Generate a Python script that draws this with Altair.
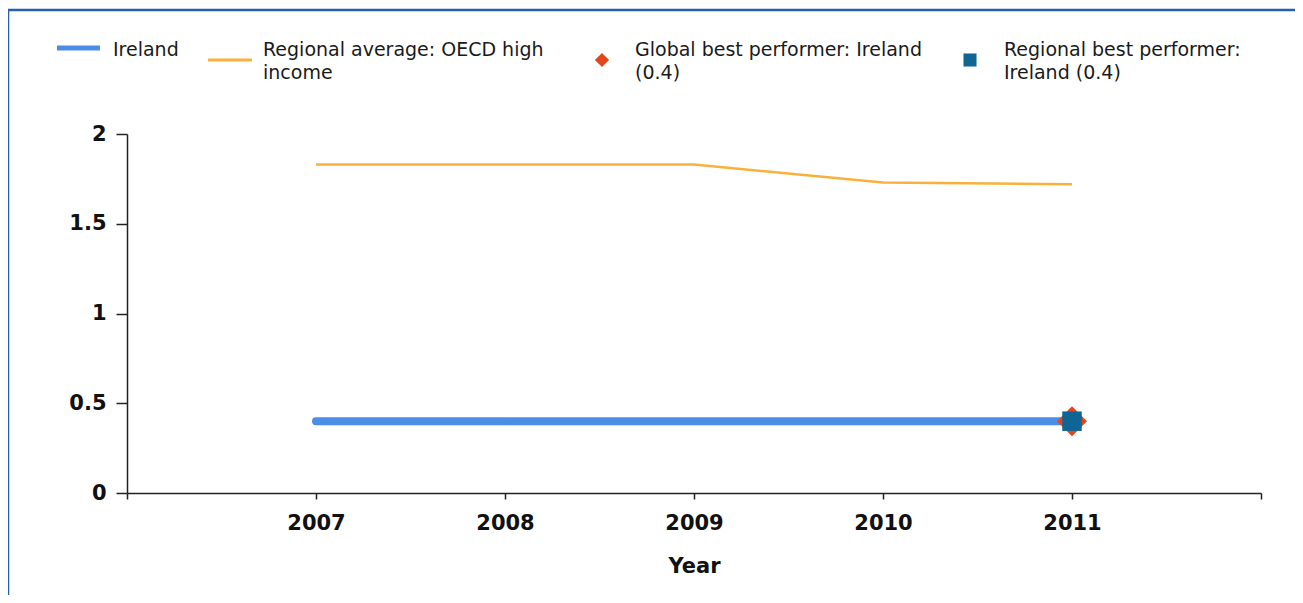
import altair as alt
import pandas as pd

# ---- data ----
years = [2007, 2008, 2009, 2010, 2011]
ireland = [0.4, 0.4, 0.4, 0.4, 0.4]
oecd_avg = [1.83, 1.83, 1.83, 1.73, 1.72]
global_best_year = [2011]
global_best_value = [0.4]
regional_best_year = [2011]
regional_best_value = [0.4]

x_ticks = [2006, 2007, 2008, 2009, 2010, 2011, 2012]
y_ticks = [0, 0.5, 1, 1.5, 2]

legend_labels = [
    "Ireland",
    "Regional average: OECD high\nincome",
    "Global best performer: Ireland\n(0.4)",
    "Regional best performer:\nIreland (0.4)",
]

BLUE = "#4b8ee6"
ORANGE = "#f9b13c"
RED = "#e4461b"
TEAL = "#0f6696"
FRAME = "#2360a8"
FONT = "DejaVu Sans"

df_ie = pd.DataFrame({"Year": years, "Value": ireland})
df_oecd = pd.DataFrame({"Year": years, "Value": oecd_avg})
df_gb = pd.DataFrame({"Year": global_best_year, "Value": global_best_value})
df_rb = pd.DataFrame({"Year": regional_best_year, "Value": regional_best_value})

x_enc = alt.X(
    "Year:Q",
    scale=alt.Scale(domain=[2006, 2012], nice=False, zero=False),
    axis=alt.Axis(
        values=x_ticks,
        format="d",
        labelExpr="datum.value == 2006 || datum.value == 2012 ? '' : datum.label",
        title="Year",
        grid=False,
        tickSize=6,
        labelPadding=13,
        titlePadding=22,
    ),
)
y_enc = alt.Y(
    "Value:Q",
    scale=alt.Scale(domain=[0, 2], nice=False),
    axis=alt.Axis(
        values=y_ticks,
        format="~g",
        title=None,
        grid=False,
        tickSize=11,
        labelPadding=10,
    ),
)

line_ie = alt.Chart(df_ie).mark_line(
    color=BLUE, strokeWidth=8, strokeCap="round"
).encode(x=x_enc, y=y_enc)

line_oecd = alt.Chart(df_oecd).mark_line(
    color=ORANGE, strokeWidth=2.5
).encode(x="Year:Q", y="Value:Q")

pt_gb = alt.Chart(df_gb).mark_point(
    shape="diamond", filled=True, color=RED, size=900, opacity=1
).encode(x="Year:Q", y="Value:Q")

pt_rb = alt.Chart(df_rb).mark_point(
    shape="square", filled=True, color=TEAL, size=380, opacity=1
).encode(x="Year:Q", y="Value:Q")

# ---- frame around the whole figure ----
one = pd.DataFrame({"k": [0]})
frame = alt.Chart(one).mark_rect(
    fill=None, stroke=FRAME, strokeWidth=2.5
).encode(
    x=alt.value(-119), x2=alt.value(1300),
    y=alt.value(-124), y2=alt.value(700),
)

# ---- custom legend ----
leg_ie = alt.Chart(one).mark_rule(color=BLUE, strokeWidth=5).encode(
    x=alt.value(-70), x2=alt.value(-27), y=alt.value(-86)
)
leg_oecd = alt.Chart(one).mark_rule(color=ORANGE, strokeWidth=3).encode(
    x=alt.value(81), x2=alt.value(125), y=alt.value(-74)
)
leg_gb = alt.Chart(one).mark_point(
    shape="diamond", filled=True, color=RED, size=200, opacity=1
).encode(x=alt.value(475), y=alt.value(-74))
leg_rb = alt.Chart(one).mark_point(
    shape="square", filled=True, color=TEAL, size=170, opacity=1
).encode(x=alt.value(843), y=alt.value(-74))

def leg_text(label, x):
    return alt.Chart(one).mark_text(
        align="left", baseline="alphabetic", font=FONT, fontSize=19,
        color="#1a1a1a", lineBreak="\n", lineHeight=23,
    ).encode(x=alt.value(x), y=alt.value(-78), text=alt.value(label))

texts = [
    leg_text(legend_labels[0], -14),
    leg_text(legend_labels[1], 136),
    leg_text(legend_labels[2], 508),
    leg_text(legend_labels[3], 877),
]

chart = alt.layer(
    frame, line_oecd, line_ie, pt_gb, pt_rb,
    leg_ie, leg_oecd, leg_gb, leg_rb, *texts,
).properties(
    width=1134, height=359,
    autosize=alt.AutoSizeParams(type="none"),
    padding={"left": 119, "top": 126, "right": 34, "bottom": 102},
).configure_view(
    stroke=None
).configure_axis(
    domainColor="#222222", domainWidth=1.5,
    tickColor="#222222", tickWidth=1.5,
    labelFont=FONT, labelFontWeight="bold", labelFontSize=21, labelColor="#111111",
    titleFont=FONT, titleFontWeight="bold", titleFontSize=21, titleColor="#111111",
)

chart.save("out.html", embed_options={"renderer": "svg", "actions": False})
